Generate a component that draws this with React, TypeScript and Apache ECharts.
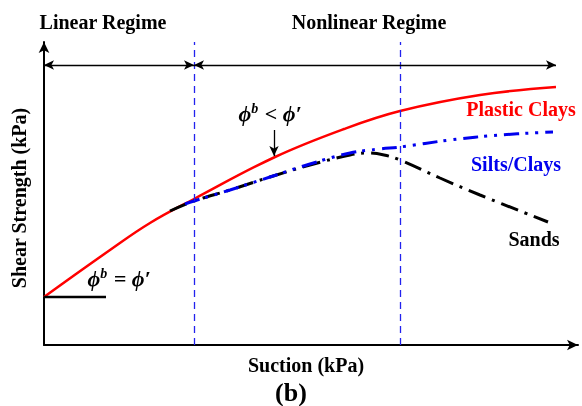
import React, { useEffect, useRef } from "react";
import * as echarts from "echarts";

// data space: x = suction (0..534), y = shear strength (0..303), arbitrary units
const plasticClays: [number, number][] = [
  [0, 48], [66, 95], [106, 122], [150, 146], [231, 188], [300, 216], [356, 234], [436, 250], [512, 258],
];
const siltsClays: [number, number][] = [
  [141, 141], [150, 144], [186, 155], [226, 168], [266, 181], [306, 192], [336, 196], [356, 198], [406, 205], [456, 210], [509, 213],
];
const sands: [number, number][] = [
  [126, 134], [150, 144], [186, 155], [226, 168], [266, 180], [306, 190], [322, 192], [340, 190], [356, 185], [396, 167], [436, 150], [504, 123],
];
const regimeBoundaries = [150, 356];
const initialLevel = 48;
const initialLineEnd = 62;
const regimeArrowY = 280;
const arrowX = 230;
const arrowFrom = 215;
const arrowTo = 189;

const serif = "Liberation Serif";

export default function App() {
  const ref = useRef<HTMLDivElement>(null);
  useEffect(() => {
    const chart = echarts.init(ref.current!, null, { renderer: "svg" });
    const txt = (x: number, y: number, text: string, color = "#000", size = 20, extra: any = {}) => ({
      type: "text",
      x,
      y,
      style: {
        text, fill: color, fontSize: size, fontWeight: "bold", fontFamily: serif,
        align: "center", verticalAlign: "middle",
      },
      ...extra,
    });
    const phiRich = {
      i: { fontFamily: serif, fontStyle: "italic", fontWeight: "bold", fontSize: 22, fill: "#000" },
      s: { fontFamily: serif, fontStyle: "italic", fontWeight: "bold", fontSize: 14, fill: "#000", verticalAlign: "top", padding: [0, 1, 10, 0] },
    };
    chart.setOption({
      animation: false,
      grid: { left: 44, right: 4, top: 42, bottom: 61 },
      xAxis: {
        type: "value", min: 0, max: 534,
        axisLine: { show: true, onZero: false, symbol: ["none", "arrow"], symbolSize: [8, 11], lineStyle: { color: "#000", width: 2 } },
        axisTick: { show: false }, axisLabel: { show: false }, splitLine: { show: false },
      },
      yAxis: {
        type: "value", min: 0, max: 303,
        axisLine: { show: true, onZero: false, symbol: ["none", "arrow"], symbolSize: [8, 11], lineStyle: { color: "#000", width: 2 } },
        axisTick: { show: false }, axisLabel: { show: false }, splitLine: { show: false },
      },
      series: [
        {
          type: "line", data: plasticClays, smooth: 0.4, showSymbol: false,
          lineStyle: { color: "#ff0000", width: 2.5 },
          markLine: {
            silent: true, symbol: ["none", "none"], label: { show: false },
            lineStyle: { color: "#2222ee", width: 1.3, type: [7, 5] },
            data: regimeBoundaries.map((v) => ({ xAxis: v })),
          },
        },
        {
          type: "line", data: sands, smooth: 0.4, showSymbol: false,
          lineStyle: { color: "#000", width: 3, type: [18, 7, 3, 7] },
        },
        {
          type: "line", data: siltsClays, smooth: 0.4, showSymbol: false,
          lineStyle: { color: "#0000ee", width: 3, type: [15, 6, 3, 7, 3, 7] },
        },
        {
          type: "line", data: [], showSymbol: false,
          markLine: {
            silent: true, label: { show: false }, symbol: ["arrow", "arrow"], symbolSize: [7, 10],
            lineStyle: { color: "#000", width: 1.3, type: "solid" },
            data: [
              [{ coord: [0, regimeArrowY] }, { coord: [regimeBoundaries[0], regimeArrowY] }],
              [{ coord: [regimeBoundaries[0], regimeArrowY] }, { coord: [512, regimeArrowY] }],
            ],
          },
        },
        {
          type: "line", data: [], showSymbol: false,
          markLine: {
            silent: true, label: { show: false }, symbol: ["none", "arrow"], symbolSize: [7, 10],
            lineStyle: { color: "#000", width: 1.3, type: "solid" },
            data: [[{ coord: [arrowX, arrowFrom] }, { coord: [arrowX, arrowTo] }]],
          },
        },
        {
          type: "line", data: [[0, initialLevel], [initialLineEnd, initialLevel]], showSymbol: false,
          lineStyle: { color: "#000", width: 2.5 },
        },
      ],
      graphic: [
        txt(103, 22, "Linear Regime"),
        txt(369, 22, "Nonlinear Regime"),
        txt(521, 109, "Plastic Clays", "#ff0000"),
        txt(516, 164, "Silts/Clays", "#0000ee"),
        txt(534, 239, "Sands"),
        txt(306, 365, "Suction (kPa)"),
        txt(291, 392, "(b)", "#000", 26),
        txt(19, 198, "Shear Strength (kPa)", "#000", 20, { rotation: Math.PI / 2 }),
        {
          type: "text", x: 270, y: 113,
          style: { text: "{i|ϕ}{s|b}{i| < ϕ′}", rich: phiRich, align: "center", verticalAlign: "middle" },
        },
        {
          type: "text", x: 119, y: 278,
          style: { text: "{i|ϕ}{s|b}{i| = ϕ′}", rich: phiRich, align: "center", verticalAlign: "middle" },
        },
      ],
    });
    return () => chart.dispose();
  }, []);
  return <div ref={ref} style={{ position: "fixed", left: 0, top: 0, width: 582, height: 406 }} />;
}
